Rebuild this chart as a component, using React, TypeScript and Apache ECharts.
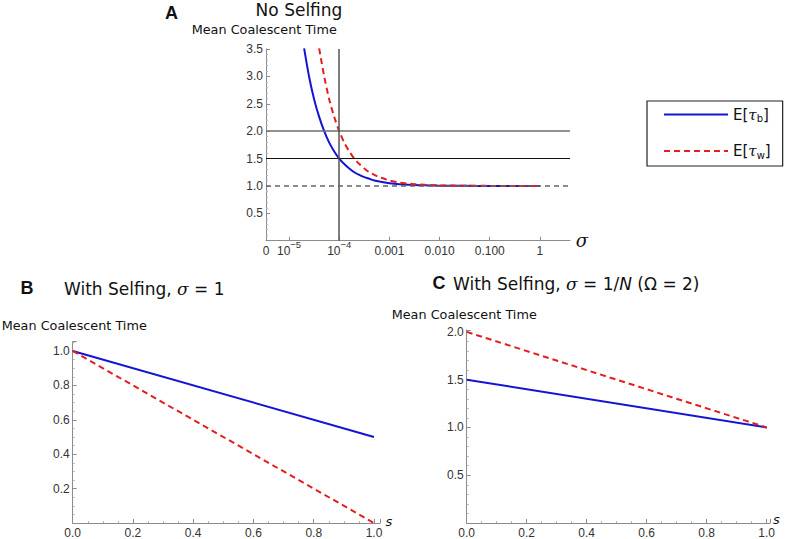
import React, { useEffect, useRef } from 'react';
import * as echarts from 'echarts';

// ---------- Data ----------
// Panel A: log10(sigma) on x, mean coalescent time on y
const sigmaTickExp = [-5.46, -5, -4, -3, -2, -1, 0];
const sigmaTickLabels = ['0', '10^−5', '10^−4', '0.001', '0.010', '0.100', '1'];

const blueSigmaExpA = [-4.7, -4.6, -4.5, -4.4, -4.3, -4.2, -4.1, -4.0, -3.9, -3.8, -3.7, -3.6, -3.5, -3.4, -3.3, -3.2, -3.0, -2.8, -2.6, -2.4, -2.2, -2.0, -1.5, -1.0, -0.5, 0];
const blueTimeA = [3.51, 2.99, 2.58, 2.26, 2.0, 1.79, 1.63, 1.5, 1.4, 1.32, 1.25, 1.2, 1.16, 1.13, 1.1, 1.08, 1.05, 1.03, 1.02, 1.013, 1.008, 1.005, 1.002, 1.0, 1.0, 1.0];

const redSigmaExpA = [-4.4, -4.3, -4.2, -4.1, -4.0, -3.9, -3.8, -3.7, -3.6, -3.5, -3.4, -3.3, -3.2, -3.1, -3.0, -2.8, -2.6, -2.4, -2.2, -2.0, -1.5, -1.0, -0.5, 0];
const redTimeA = [3.51, 3.0, 2.58, 2.26, 2.0, 1.79, 1.63, 1.5, 1.4, 1.32, 1.25, 1.2, 1.16, 1.13, 1.1, 1.06, 1.04, 1.025, 1.016, 1.01, 1.003, 1.001, 1.0, 1.0];

const refLevelsA = [2.0, 1.5, 1.0];
const refSigmaExpA = -4;

// Panels B and C: selfing rate s on x
const selfingS = [0, 1];
const blueTimeB = [1.0, 0.5];
const redTimeB = [1.0, 0.0];
const blueTimeC = [1.5, 1.0];
const redTimeC = [2.0, 1.0];

const BLUE_NAME = 'E[τb]';
const RED_NAME = 'E[τw]';

const BLUE = '#1414d2';
const RED = '#e41e1e';
const AXIS = '#8c8c8c';
const LABEL_FONT = 'Liberation Sans';
const TITLE_FONT = 'DejaVu Sans';
const LABEL_SIZE = 12;

const zip = (xs: number[], ys: number[]) => xs.map((x, i) => [x, ys[i]]);

const isMultiple = (v: number, step: number) => Math.abs(v / step - Math.round(v / step)) < 1e-6;

function valueAxis(gridIndex: number, min: number, max: number, interval: number, minorSplit: number, hideZero: boolean, isY: boolean) {
  return {
    gridIndex,
    type: 'value',
    min,
    max,
    interval,
    axisLine: { show: true, onZero: false, lineStyle: { color: AXIS, width: 1 } },
    axisTick: { show: true, inside: true, length: 4, lineStyle: { color: AXIS } },
    minorTick: { show: true, splitNumber: minorSplit, length: 2, lineStyle: { color: '#b5b5b5' } },
    splitLine: { show: false },
    minorSplitLine: { show: false },
    axisLabel: {
      margin: isY ? 3 : 4,
      color: '#333',
      fontFamily: LABEL_FONT,
      fontSize: LABEL_SIZE,
      formatter: (v: number) => {
        if (!isMultiple(v, interval)) return '';
        if (hideZero && Math.abs(v) < 1e-9) return '';
        return v.toFixed(1);
      },
    },
  };
}

export default function App() {
  const ref = useRef<HTMLDivElement>(null);

  useEffect(() => {
    if (!ref.current) return;
    const chart = echarts.init(ref.current, null, { renderer: 'svg' });

    const refLineStyles = [
      { color: '#6e6e6e', width: 1.6, type: 'solid' },
      { color: '#111', width: 1.2, type: 'solid' },
      { color: '#666', width: 1.5, type: [5, 4] },
    ];

    const titleRich = {
      t: { fontFamily: TITLE_FONT, fontSize: 17, fill: '#111' },
      i: { fontFamily: 'DejaVu Serif', fontStyle: 'italic', fontSize: 17, fill: '#111' },
      o: { fontFamily: TITLE_FONT, fontStyle: 'italic', fontSize: 17, fill: '#111' },
    };

    const text = (x: number, y: number, str: string, extra: any = {}) => ({
      type: 'text',
      x,
      y,
      silent: true,
      style: {
        text: str,
        fill: '#111',
        fontFamily: TITLE_FONT,
        fontSize: 12.8,
        textAlign: 'left',
        textVerticalAlign: 'middle',
        ...extra,
      },
    });

    const option: any = {
      animation: false,
      backgroundColor: '#fff',
      legend: {
        data: [BLUE_NAME, RED_NAME],
        orient: 'vertical',
        left: 647,
        top: 101,
        padding: [6, 12, 6, 16],
        itemGap: 20,
        itemWidth: 64,
        itemHeight: 14,
        borderColor: '#222',
        borderWidth: 1.2,
        selectedMode: false,
        itemStyle: { opacity: 0 },
        formatter: (name: string) =>
          name === BLUE_NAME ? '{n|E[}{t|τ}{s|b}{n|]}' : '{n|E[}{t|τ}{s|w}{n|]}',
        textStyle: {
          color: '#111',
          rich: {
            n: { fontFamily: TITLE_FONT, fontSize: 15, color: '#111', lineHeight: 18 },
            t: { fontFamily: 'DejaVu Serif', fontStyle: 'italic', fontSize: 15, color: '#111', lineHeight: 18 },
            s: { fontFamily: TITLE_FONT, fontSize: 10, color: '#111', lineHeight: 10, verticalAlign: 'bottom' },
          },
        },
      },
      grid: [
        { left: 266, top: 49, width: 304, height: 191.7 },
        { left: 72.7, top: 341.7, width: 307.3, height: 182.3 },
        { left: 466.7, top: 330, width: 303.3, height: 194 },
      ],
      xAxis: [
        {
          gridIndex: 0,
          type: 'value',
          min: -5.46,
          max: 0.6,
          axisLine: { show: true, onZero: false, lineStyle: { color: AXIS, width: 1 } },
          axisTick: { show: true, inside: true, length: 4, customValues: sigmaTickExp, lineStyle: { color: AXIS } },
          splitLine: { show: false },
          axisLabel: {
            customValues: sigmaTickExp,
            margin: -1,
            color: '#333',
            fontFamily: LABEL_FONT,
            fontSize: LABEL_SIZE,
            formatter: (v: number) => {
              const i = sigmaTickExp.findIndex((e) => Math.abs(e - v) < 1e-6);
              if (i < 0) return '';
              const lab = sigmaTickLabels[i];
              if (lab.indexOf('^') >= 0) {
                const [b, e] = lab.split('^');
                return `{b|${b}}{e|${e}}`;
              }
              return `{b|${lab}}`;
            },
            rich: {
              b: { fontFamily: LABEL_FONT, fontSize: LABEL_SIZE, color: '#333', lineHeight: 17, verticalAlign: 'bottom' },
              e: { fontFamily: LABEL_FONT, fontSize: 9.5, color: '#333', lineHeight: 8, verticalAlign: 'top' },
            },
          },
        },
        valueAxis(1, 0, 1.02, 0.2, 4, false, false),
        valueAxis(2, 0, 1.011, 0.2, 4, false, false),
      ],
      yAxis: [
        valueAxis(0, 0, 3.5, 0.5, 5, true, true),
        valueAxis(1, 0, 1.054, 0.2, 4, true, true),
        valueAxis(2, 0, 2.02, 0.5, 5, true, true),
      ],
      series: [
        {
          name: BLUE_NAME,
          type: 'line',
          xAxisIndex: 0,
          yAxisIndex: 0,
          data: zip(blueSigmaExpA, blueTimeA),
          symbol: 'none',
          smooth: 0.3,
          clip: true,
          lineStyle: { color: BLUE, width: 2 },
          itemStyle: { color: BLUE },
          z: 3,
          markLine: {
            silent: true,
            symbol: ['none', 'none'],
            label: { show: false },
            emphasis: { disabled: true },
            data: [
              ...refLevelsA.map((lv, i) => ({ yAxis: lv, lineStyle: refLineStyles[i] })),
              { xAxis: refSigmaExpA, lineStyle: { color: '#555', width: 1.5, type: 'solid' } },
            ],
          },
        },
        {
          name: RED_NAME,
          type: 'line',
          xAxisIndex: 0,
          yAxisIndex: 0,
          data: zip(redSigmaExpA, redTimeA),
          symbol: 'none',
          smooth: 0.3,
          clip: true,
          lineStyle: { color: RED, width: 2, type: [6, 4] },
          itemStyle: { color: RED },
          z: 4,
        },
        {
          name: BLUE_NAME,
          type: 'line',
          xAxisIndex: 1,
          yAxisIndex: 1,
          data: zip(selfingS, blueTimeB),
          symbol: 'none',
          lineStyle: { color: BLUE, width: 2 },
          itemStyle: { color: BLUE },
        },
        {
          name: RED_NAME,
          type: 'line',
          xAxisIndex: 1,
          yAxisIndex: 1,
          data: zip(selfingS, redTimeB),
          symbol: 'none',
          clip: false,
          lineStyle: { color: RED, width: 2, type: [6, 4] },
          itemStyle: { color: RED },
        },
        {
          name: BLUE_NAME,
          type: 'line',
          xAxisIndex: 2,
          yAxisIndex: 2,
          data: zip(selfingS, blueTimeC),
          symbol: 'none',
          lineStyle: { color: BLUE, width: 2 },
          itemStyle: { color: BLUE },
        },
        {
          name: RED_NAME,
          type: 'line',
          xAxisIndex: 2,
          yAxisIndex: 2,
          data: zip(selfingS, redTimeC),
          symbol: 'none',
          clip: false,
          lineStyle: { color: RED, width: 2, type: [6, 4] },
          itemStyle: { color: RED },
        },
      ],
      graphic: [
        // Panel A
        text(171.5, 13, 'A', { fontFamily: 'Liberation Sans', fontWeight: 'bold', fontSize: 18, textAlign: 'center' }),
        text(299, 10, 'No Selfing', { fontSize: 17, textAlign: 'center' }),
        text(191.7, 29.5, 'Mean Coalescent Time'),
        text(582, 240, 'σ', { fontFamily: 'DejaVu Serif', fontStyle: 'italic', fontSize: 18, textAlign: 'center' }),
        // Panel B
        text(27, 288, 'B', { fontFamily: 'Liberation Sans', fontWeight: 'bold', fontSize: 18, textAlign: 'center' }),
        text(64, 289, '{t|With Selfing, }{i|σ}{t| = 1}', { rich: titleRich, fontSize: 17 }),
        text(1.7, 325.5, 'Mean Coalescent Time'),
        text(389, 521, 's', { fontStyle: 'italic', fontSize: 13, textAlign: 'center' }),
        // Panel C
        text(439, 282.5, 'C', { fontFamily: 'Liberation Sans', fontWeight: 'bold', fontSize: 18, textAlign: 'center' }),
        text(453, 284, '{t|With Selfing, }{i|σ}{t| = 1/}{o|N}{t| (Ω = 2)}', { rich: titleRich, fontSize: 17 }),
        text(391.7, 314, 'Mean Coalescent Time'),
        text(776.5, 519, 's', { fontStyle: 'italic', fontSize: 13, textAlign: 'center' }),
      ],
    };

    chart.setOption(option);
    return () => chart.dispose();
  }, []);

  return (
    <div
      ref={ref}
      style={{ position: 'absolute', left: 0, top: 0, width: 786, height: 539, background: '#fff' }}
    />
  );
}
